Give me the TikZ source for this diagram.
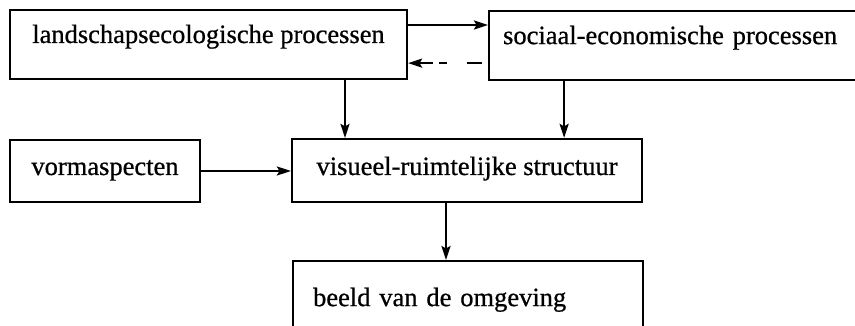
\documentclass[tikz,border=0pt]{standalone}
\usepackage{fontspec}
\setmainfont[FakeBold=0.7]{Liberation Serif}
\usetikzlibrary{arrows.meta}
\tikzset{
  box/.style={draw, line width=2.2pt, text height=18pt, font=\fontsize{26.5}{30}\selectfont, inner sep=0pt},
  arr/.style={line width=2.2pt, -{Stealth[length=14pt,width=9pt,inset=2.5pt]}},
}
\begin{document}
\begin{tikzpicture}[x=1pt,y=-1pt]
\useasboundingbox (0,0) rectangle (855,326);
\clip (0,0) rectangle (855,326);
\node[box, minimum width=397pt, minimum height=69pt, text depth=21pt] (b1) at (208.5,44.5) {landschapsecologische processen};
\node[box, anchor=north west, minimum height=69pt, text depth=21pt, text width=354pt, inner xsep=14pt, align=left] (b2) at (488,10) {sociaal-economische processen};
\node[box, minimum width=190pt, minimum height=62pt, text depth=10pt] (b3) at (105,171) {vormaspecten};
\node[box, minimum width=350pt, minimum height=63pt, text depth=9pt] (b4) at (467,170.5) {visueel-ruimtelijke structuur};
\node[box, anchor=north west, minimum height=78pt, text depth=6pt, text width=310pt, inner xsep=20pt, align=left] (b5) at (292,260) {beeld van de omgeving};
% horizontal arrows between top boxes
\draw[arr] ([yshift=19.5pt]b1.east) -- ([yshift=19.5pt]b1.east -| b2.west);
\draw[arr, dash pattern=on 0pt off 6pt on 15pt off 20pt on 8pt off 6pt on 80pt] ([yshift=-17.5pt]b2.west) -- ([yshift=-17.5pt]b2.west -| b1.east);
% vertical arrows
\draw[arr] ([xshift=136.5pt]b1.south) -- ([xshift=136.5pt]b1.south |- b4.north);
\draw[arr] ([xshift=-116pt]b2.south) -- ([xshift=-116pt]b2.south |- b4.north);
\draw[arr] (b3.east) -- (b3.east -| b4.west);
\draw[arr] ([xshift=-21pt]b4.south) -- ([xshift=-21pt]b4.south |- b5.north);
\end{tikzpicture}
\end{document}
